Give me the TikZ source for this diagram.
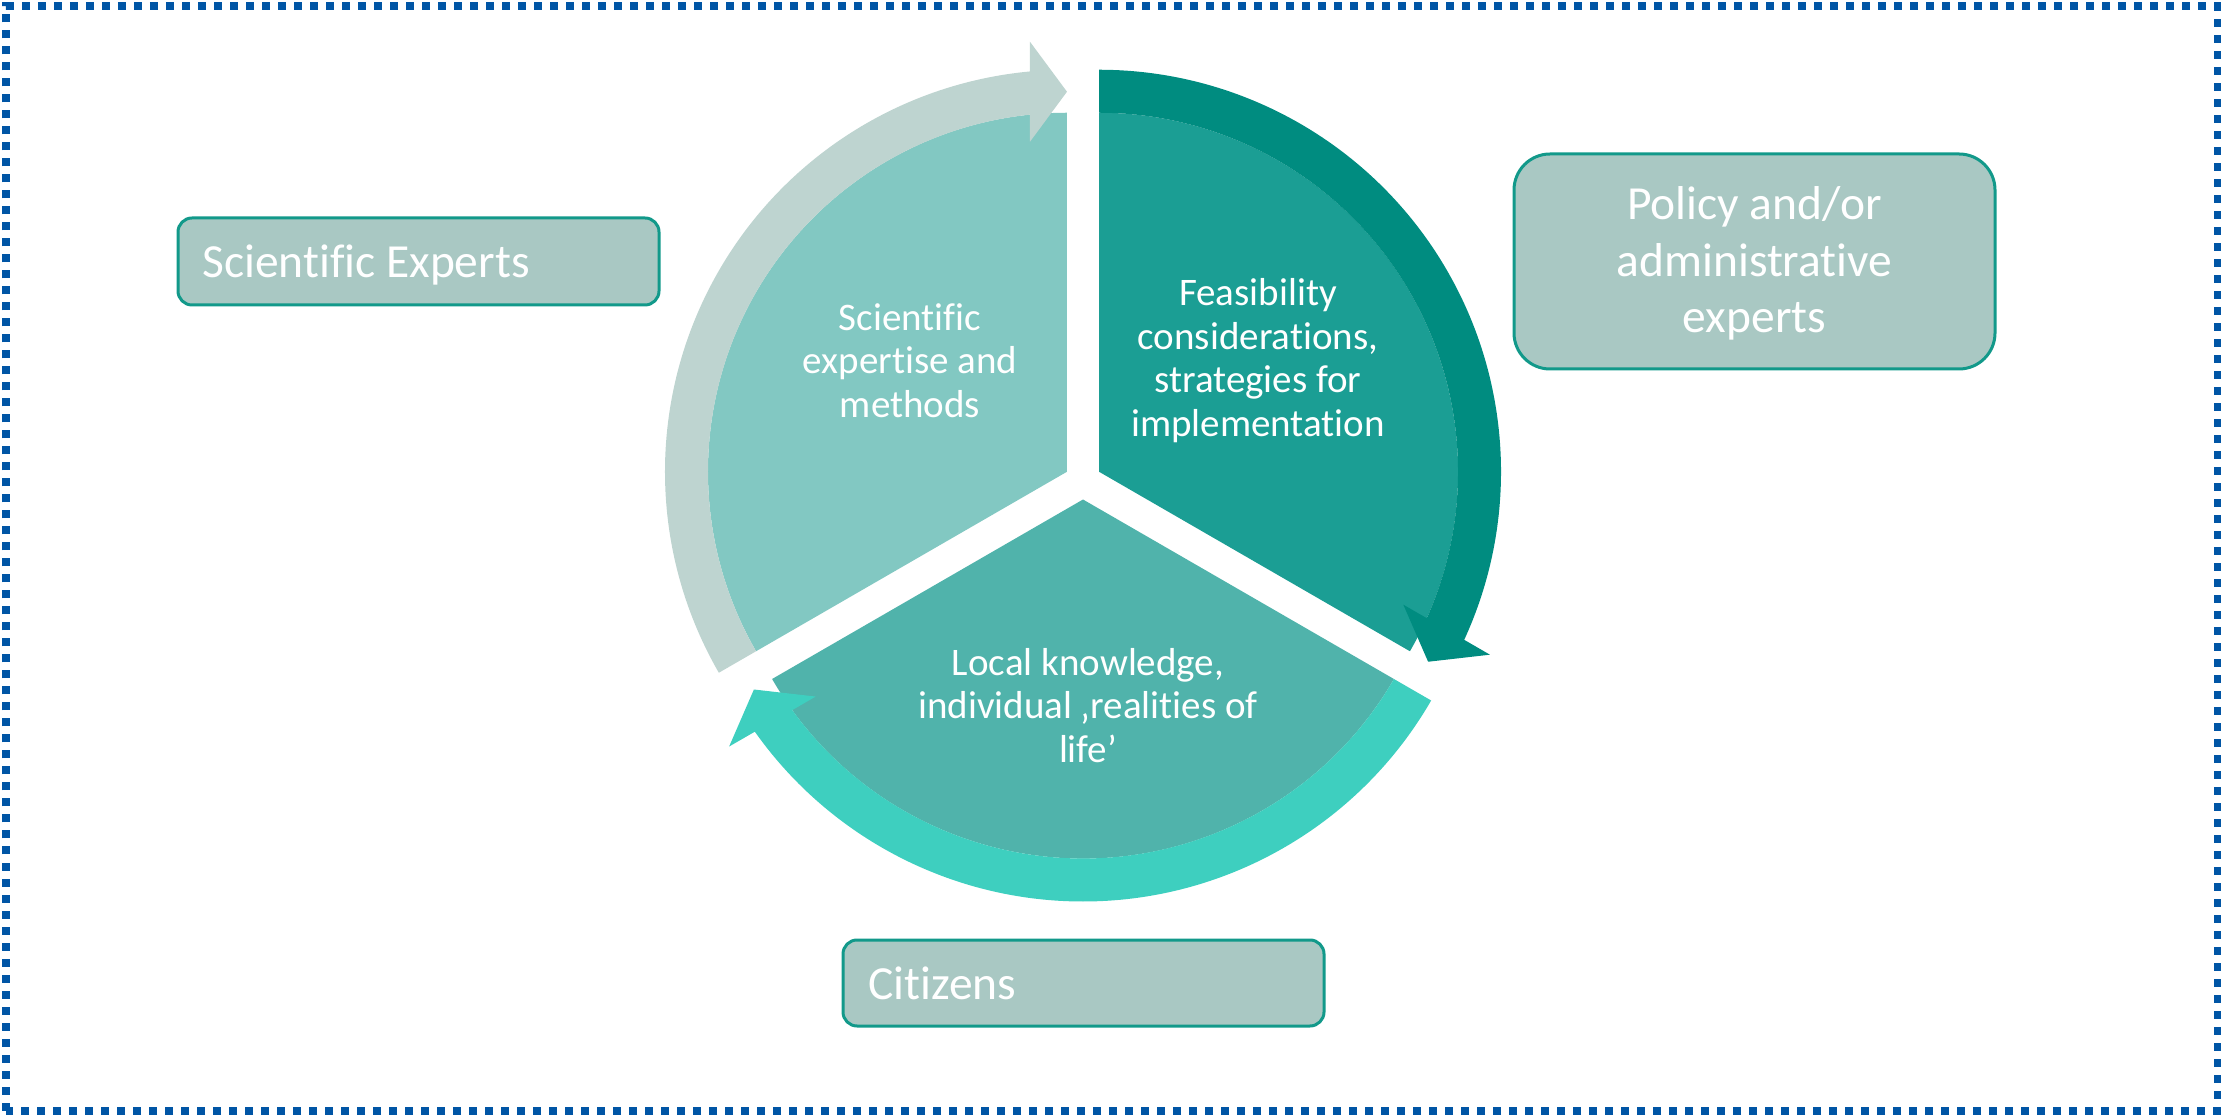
\documentclass[tikz,border=0pt]{standalone}
\usepackage{fontspec}
\setmainfont{Carlito}[Ligatures=NoCommon]
\usetikzlibrary{calc}
\definecolor{borderblue}{HTML}{0055A5}
\definecolor{sliceL}{HTML}{82C8C2}
\definecolor{sliceR}{HTML}{1B9E94}
\definecolor{sliceB}{HTML}{50B3AB}
\definecolor{arrL}{HTML}{BED4D0}
\definecolor{arrR}{HTML}{008C80}
\definecolor{arrB}{HTML}{3ECFBF}
\definecolor{boxfill}{HTML}{A9C8C3}
\definecolor{boxline}{HTML}{12998A}
\tikzset{
  frameline/.style={draw=borderblue, line width=4pt, dash pattern=on 4pt off 4pt},
  slicetext/.style={text=white, align=center, inner sep=0pt, font=\fontsize{19.5pt}{21.75pt}\selectfont},
  rolebox/.style={draw=boxline, fill=boxfill, line width=1.5pt, inner sep=0pt},
  roletext/.style={text=white, inner sep=0pt, font=\fontsize{23.75pt}{28.25pt}\selectfont}
}
\begin{document}
\begin{tikzpicture}[x=0.5pt,y=0.5pt]
\useasboundingbox (0,0) rectangle (2221,1114);
\draw[frameline] (6,3.5) rectangle (2217.5,1107.5);

\coordinate (C) at (1083,633);
\coordinate (L) at (1066.98,642.25);
\coordinate (R) at (1099.02,642.25);
\coordinate (B) at (1083,614.5);

% slices
\fill[sliceL] (L) -- ($(L)+(90:179.5pt)$) arc[start angle=90,end angle=210,radius=179.5pt] -- cycle;
\fill[sliceR] (R) -- ($(R)+(-30:179.5pt)$) arc[start angle=-30,end angle=90,radius=179.5pt] -- cycle;
\fill[sliceB] (B) -- ($(B)+(210:179.5pt)$) arc[start angle=210,end angle=330,radius=179.5pt] -- cycle;

% left arrow
\fill[arrL] ($(L)+(210:201pt)$) arc[start angle=210,end angle=95,radius=201pt]
  -- ($(L)+(95:179.5pt)$) arc[start angle=95,end angle=210,radius=179.5pt] -- cycle;
\fill[arrL] ($(L)+(96.40:166.05pt)$) -- ($(L)+(90:190pt)$) -- ($(L)+(94.92:215.8pt)$) -- cycle;

% right arrow
\fill[arrR] ($(R)+(90:201pt)$) arc[start angle=90,end angle=-25,radius=201pt]
  -- ($(R)+(-25:179.5pt)$) arc[start angle=-25,end angle=90,radius=179.5pt] -- cycle;
\fill[arrR] ($(R)+(-23.60:166.05pt)$) -- ($(R)+(-30:190pt)$) -- ($(R)+(-25.08:215.8pt)$) -- cycle;

% bottom arrow
\fill[arrB] ($(B)+(330:201pt)$) arc[start angle=330,end angle=215,radius=201pt]
  -- ($(B)+(215:179.5pt)$) arc[start angle=215,end angle=330,radius=179.5pt] -- cycle;
\fill[arrB] ($(B)+(216.40:166.05pt)$) -- ($(B)+(210:190pt)$) -- ($(B)+(214.92:215.8pt)$) -- cycle;

% slice texts
\node[slicetext] (tL) at (910,749) {\strut Scientific\\\strut expertise and\\\strut methods};
\node[slicetext] (tR) at (1258,751.7) {\strut Feasibility\\\strut considerations,\\\strut strategies for\\\strut implementation};
\node[slicetext] (tB) at (1088,404) {\strut Local knowledge,\\\strut individual ‚realities of\\\strut life’};

% role boxes
\node[rolebox, minimum width=240.5pt, minimum height=43.5pt, rounded corners=7pt] (sci) at (418.5,852.5) {};
\node[roletext, anchor=base west] (sciT) at (202,836) {Scientific Experts};
\node[rolebox, minimum width=240.5pt, minimum height=107.5pt, rounded corners=18pt] (pol) at (1754.5,852.5) {};
\node[roletext, align=center] (polT) at (1754.5,848.8) {\strut Policy and/or\\\strut administrative\\\strut experts};
\node[rolebox, minimum width=240.5pt, minimum height=43pt, rounded corners=7pt] (cit) at (1083.5,131) {};
\node[roletext, anchor=base west] (citT) at (868,115) {Citizens};
\end{tikzpicture}
\end{document}
